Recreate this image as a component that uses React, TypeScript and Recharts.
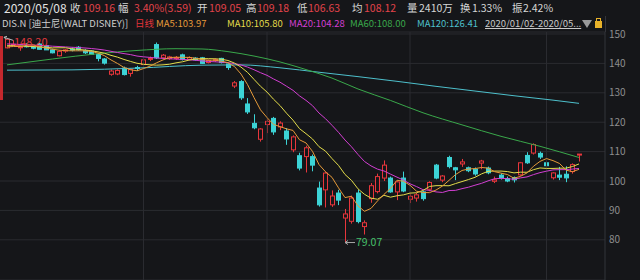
import { ComposedChart, Bar, Line, XAxis, YAxis, CartesianGrid, ReferenceLine, ReferenceDot } from "recharts";

// trading days 2020/01/02 - 2020/05/08
const dates = [
  "01/02", "01/03", "01/06", "01/07", "01/08", "01/09", "01/10", "01/13", "01/14", "01/15", "01/16", "01/17",
  "01/21", "01/22", "01/23", "01/24", "01/27", "01/28", "01/29", "01/30", "01/31",
  "02/03", "02/04", "02/05", "02/06", "02/07", "02/10", "02/11", "02/12", "02/13", "02/14", "02/18", "02/19",
  "02/20", "02/21", "02/24", "02/25", "02/26", "02/27", "02/28",
  "03/02", "03/03", "03/04", "03/05", "03/06", "03/09", "03/10", "03/11", "03/12", "03/13", "03/16", "03/17",
  "03/18", "03/19", "03/20", "03/23", "03/24", "03/25", "03/26", "03/27", "03/30", "03/31",
  "04/01", "04/02", "04/03", "04/06", "04/07", "04/08", "04/09", "04/13", "04/14", "04/15", "04/16", "04/17",
  "04/20", "04/21", "04/22", "04/23", "04/24", "04/27", "04/28", "04/29", "04/30",
  "05/01", "05/04", "05/05", "05/06", "05/07", "05/08",
];

const opens = [
  145.3, 146.4, 145.5, 146.0, 145.5, 146.6, 146.0, 144.6, 142.6, 144.2, 144.9, 145.5,
  144.4, 144.2, 143.0, 141.5, 136.3, 136.4, 138.4, 136.6, 138.6,
  139.6, 141.4, 146.4, 141.9, 141.6, 141.7, 142.9, 141.4, 141.8, 141.9, 140.3, 141.1,
  141.7, 139.8, 132.3, 133.8, 126.2, 119.6, 114.2,
  119.2, 121.3, 118.4, 117.0, 110.6, 108.6, 108.3, 108.3, 97.6, 97.0, 91.9, 95.9,
  87.4, 86.3, 95.9, 84.5, 94.0, 96.4, 101.0, 101.0, 96.3, 101.0,
  93.8, 94.2, 96.3, 97.2, 105.4, 100.3, 108.0, 104.5, 105.8, 104.5, 104.0, 106.1,
  104.4, 99.9, 102.0, 100.8, 101.2, 102.1, 108.7, 109.5, 109.4,
  106.2, 101.1, 102.0, 102.3, 103.2, 109.05,
];

const highs = [
  148.2, 147.9, 146.0, 146.9, 146.1, 146.9, 146.1, 145.0, 144.4, 144.9, 145.4, 145.9,
  144.8, 144.5, 143.3, 141.8, 137.9, 138.0, 138.9, 138.2, 139.2,
  141.5, 142.3, 147.1, 143.2, 142.6, 142.5, 143.3, 142.4, 142.1, 142.2, 141.3, 141.6,
  141.9, 140.0, 134.0, 134.3, 128.2, 122.7, 118.0,
  121.0, 121.8, 120.3, 118.0, 115.5, 109.6, 112.0, 109.0, 99.8, 103.2, 96.8, 97.0,
  90.5, 95.0, 97.0, 86.6, 99.3, 102.5, 107.0, 101.5, 100.0, 103.2,
  95.5, 96.0, 96.6, 99.9, 105.8, 102.0, 108.6, 104.8, 107.5, 104.9, 104.6, 107.2,
  104.9, 101.5, 102.6, 101.5, 101.5, 106.5, 109.8, 112.8, 110.0,
  107.3, 103.0, 104.8, 105.0, 106.0, 109.18,
];

const lows = [
  145.1, 146.0, 144.3, 145.4, 144.8, 144.7, 144.6, 143.4, 142.4, 143.6, 144.1, 144.3,
  143.2, 142.9, 140.7, 139.6, 135.8, 136.0, 135.9, 135.5, 137.4,
  139.3, 140.8, 141.5, 141.5, 141.2, 141.2, 141.0, 141.1, 140.9, 139.8, 140.0, 140.5,
  140.0, 137.8, 131.6, 127.6, 122.8, 117.6, 113.4,
  116.3, 115.7, 117.3, 112.3, 109.8, 103.6, 102.9, 103.3, 91.3, 91.0, 91.2, 91.8,
  79.07, 85.5, 85.6, 81.8, 92.6, 95.8, 100.0, 96.0, 93.5, 96.2,
  92.5, 93.0, 93.3, 96.5, 100.6, 99.6, 104.3, 100.3, 104.8, 103.0, 101.8, 104.0,
  102.3, 99.3, 100.5, 99.6, 99.5, 101.8, 105.8, 109.0, 107.5,
  104.7, 100.5, 100.3, 99.6, 102.5, 106.63,
];

const closes = [
  148.2, 146.5, 145.65, 145.7, 145.4, 144.8, 144.6, 143.6, 144.1, 144.6, 144.5, 144.6,
  143.6, 143.1, 141.7, 140.1, 137.4, 137.6, 136.2, 137.9, 138.3,
  141.2, 141.7, 141.9, 142.8, 142.2, 142.0, 141.3, 142.0, 141.2, 140.0, 141.0, 141.3,
  140.3, 138.6, 133.4, 128.3, 123.5, 118.1, 117.7,
  120.3, 116.7, 119.7, 114.3, 115.0, 104.4, 111.3, 105.4, 91.9, 102.7, 94.9, 93.5,
  88.8, 94.2, 86.2, 85.8, 98.4, 101.5, 105.4, 96.3, 99.7, 96.6,
  94.8, 95.3, 94.0, 99.5, 101.0, 101.7, 104.9, 103.8, 106.5, 103.5, 102.4, 106.8,
  102.8, 100.4, 101.0, 100.0, 100.4, 106.2, 106.2, 112.4, 108.15,
  105.2, 102.75, 101.3, 101.07, 105.57, 109.16,
];

// Dec 2019 closes feeding the short moving averages
const priorCloses = [
  147.5, 147.9, 148.2, 147.2, 146.8, 146.6, 147.3, 146.4, 147.2, 146.8,
  146.6, 146.5, 146.9, 146.2, 146.0, 145.9, 145.6, 143.8, 144.6,
];

// long averages
const ma60At = [0, 7, 14, 20, 26, 30, 34, 38, 42, 46, 50, 54, 59, 64, 70, 76, 82, 88];
const ma60Val = [139.5, 141.5, 143.3, 144.4, 145.0, 144.9, 144.0, 142.5, 140.5, 137.9, 135.0, 131.3, 127.4, 123.2, 119.1, 115.2, 111.8, 108.0];
const ma120At = [0, 10, 20, 30, 36, 42, 48, 54, 60, 66, 72, 78, 84, 88];
const ma120Val = [137.7, 137.8, 138.4, 139.4, 139.5, 138.5, 137.0, 135.5, 133.9, 132.2, 130.6, 129.0, 127.5, 126.41];

const monthStarts = ["02/03", "03/02", "04/01", "05/01"];
const yTicks = [80, 90, 100, 110, 120, 130, 140, 150];

const headerLabels = ["收", "幅", "开", "高", "低", "均", "量", "换", "振"];
const headerValues = ["109.16", "3.40%(3.59)", "109.05", "109.18", "106.63", "108.12", "2410万", "1.33%", "2.42%"];

const BG = "#151619";
const GRID = "#2a2b30";
const UP = "#e8363c";
const DOWN = "#3cd3d6";
const C_MA5 = "#e59a3a";
const C_MA10 = "#e3dc4b";
const C_MA20 = "#d23fd2";
const C_MA60 = "#3aa84b";
const C_MA120 = "#4ec0cc";

const allCloses = [...priorCloses, ...closes];
const movingAvg = (n: number) =>
  closes.map((_, i) => {
    const end = i + priorCloses.length + 1;
    const win = allCloses.slice(end - n, end);
    return win.reduce((a, b) => a + b, 0) / n;
  });

const ma5 = movingAvg(5);
const ma10 = movingAvg(10);
const ma20 = movingAvg(20);

const data = dates.map((d, i) => ({
  date: d,
  open: opens[i],
  high: highs[i],
  low: lows[i],
  close: closes[i],
  range: [lows[i], highs[i]],
  ma5: ma5[i],
  ma10: ma10[i],
  ma20: ma20[i],
  ma60: ma60At.includes(i) ? ma60Val[ma60At.indexOf(i)] : null,
  ma120: ma120At.includes(i) ? ma120Val[ma120At.indexOf(i)] : null,
}));

const iHigh = highs.indexOf(Math.max(...highs));
const iLow = lows.indexOf(Math.min(...lows));

const Candle = (props: any) => {
  const { x, y, width, height, payload } = props;
  if (x == null || !payload) return null;
  const { open, close, high, low } = payload;
  const top = Math.min(y, y + height);
  const h = Math.abs(height);
  const k = high > low ? h / (high - low) : 0;
  const py = (v: number) => top + (high - v) * k;
  const up = close >= open;
  const color = up ? UP : DOWN;
  const left = Math.round(x);
  const cx = left + 2.5;
  const bTop = py(Math.max(open, close));
  const bBot = py(Math.min(open, close));
  return (
    <g>
      <line x1={cx} x2={cx} y1={top} y2={bTop} stroke={color} />
      <line x1={cx} x2={cx} y1={bBot} y2={top + h} stroke={color} />
      <rect
        x={left + 0.5}
        y={bTop}
        width={4}
        height={Math.max(bBot - bTop, 1)}
        fill={up ? BG : color}
        stroke={color}
      />
    </g>
  );
};

const HighMark = ({ cx, cy, text }: any) => (
  <g>
    <line x1={cx - 3} y1={cy - 2} x2={cx + 6} y2={cy + 1} stroke="#b8b8b8" />
    <path d={`M${cx - 3},${cy - 2} l3,-1 M${cx - 3},${cy - 2} l2,2`} stroke="#b8b8b8" fill="none" />
    <text x={cx + 7} y={cy + 4} dominantBaseline="middle" fontSize={11} fill="#e0393e">
      {text}
    </text>
  </g>
);

const LowMark = ({ cx, cy, text }: any) => (
  <g>
    <line x1={cx} y1={cy} x2={cx + 10} y2={cy} stroke="#a8a8a8" />
    <path d={`M${cx + 3},${cy - 2} L${cx},${cy} L${cx + 3},${cy + 2}`} stroke="#a8a8a8" fill="none" />
    <text x={cx + 11} y={cy + 1} dominantBaseline="middle" fontSize={10.5} fill="#46c06a">
      {text}
    </text>
  </g>
);

const labelX = [70, 118, 197, 246, 297, 352, 407, 460, 512];
const valueX = [83, 134, 209, 257, 308, 364, 419, 472, 523];

const legend = [
  { name: "MA5", value: ma5[ma5.length - 1].toFixed(2), color: C_MA5, x: 156 },
  { name: "MA10", value: ma10[ma10.length - 1].toFixed(2), color: C_MA10, x: 227 },
  { name: "MA20", value: ma20[ma20.length - 1].toFixed(2), color: C_MA20, x: 289 },
  { name: "MA60", value: ma60Val[ma60Val.length - 1].toFixed(2), color: C_MA60, x: 350 },
  { name: "MA120", value: ma120Val[ma120Val.length - 1].toFixed(2), color: C_MA120, x: 417 },
];

const abs = (left: number, top: number, extra: any = {}) => ({
  position: "absolute" as const,
  left,
  top,
  whiteSpace: "nowrap" as const,
  ...extra,
});

export default function App() {
  return (
    <div
      style={{
        position: "fixed",
        top: 0,
        left: 0,
        width: 640,
        height: 280,
        background: BG,
        overflow: "hidden",
        fontFamily: '"Noto Sans CJK SC", "Noto Sans", sans-serif',
      }}
    >
      <ComposedChart
        width={640}
        height={280}
        data={data}
        margin={{ top: 32, right: 0, bottom: 0, left: 0 }}
        style={{ position: "absolute", top: 0, left: 0 }}
      >
        <CartesianGrid vertical={false} stroke={GRID} />
        <XAxis dataKey="date" hide padding={{ left: 3.75, right: 22.75 }} />
        <YAxis
          orientation="right"
          width={35}
          domain={[66.33, 150.68]}
          ticks={yTicks}
          interval={0}
          allowDataOverflow
          tickLine={false}
          tickSize={2}
          tickMargin={2}
          axisLine={{ stroke: "#33343a" }}
          tick={{ fill: "#8e8e8e", fontSize: 10 }}
        />
        {monthStarts.map((d) => (
          <ReferenceLine key={d} x={d} stroke={GRID} />
        ))}
        <Bar dataKey="range" barSize={5} shape={(p: any) => <Candle {...p} />} isAnimationActive={false} />
        <Line type="monotone" dataKey="ma120" stroke={C_MA120} strokeWidth={1} dot={false} connectNulls isAnimationActive={false} />
        <Line type="monotone" dataKey="ma60" stroke={C_MA60} strokeWidth={1} dot={false} connectNulls isAnimationActive={false} />
        <Line type="linear" dataKey="ma20" stroke={C_MA20} strokeWidth={1} dot={false} isAnimationActive={false} />
        <Line type="linear" dataKey="ma10" stroke={C_MA10} strokeWidth={1} dot={false} isAnimationActive={false} />
        <Line type="linear" dataKey="ma5" stroke={C_MA5} strokeWidth={1} dot={false} isAnimationActive={false} />
        <ReferenceDot
          x={dates[iHigh]}
          y={highs[iHigh]}
          r={0}
          ifOverflow="visible"
          shape={(p: any) => <HighMark cx={p.cx} cy={p.cy} text={highs[iHigh].toFixed(2)} />}
        />
        <ReferenceDot
          x={dates[iLow]}
          y={lows[iLow]}
          r={0}
          ifOverflow="visible"
          shape={(p: any) => <LowMark cx={p.cx} cy={p.cy} text={lows[iLow].toFixed(2)} />}
        />
      </ComposedChart>

      {/* header row */}
      <span style={abs(4, 0, { fontSize: 12, lineHeight: "16px", color: "#e4e4e4" })}>2020/05/08</span>
      {headerLabels.map((l, i) => (
        <span key={l} style={abs(labelX[i], 0, { fontSize: 10.5, lineHeight: "16px", color: "#d6d6d6" })}>
          {l}
        </span>
      ))}
      {headerValues.map((v, i) => (
        <span
          key={v}
          style={abs(valueX[i], 0, { fontSize: 10.5, lineHeight: "16px", color: i < 6 ? "#e2434a" : "#d6d6d6" })}
        >
          {v}
        </span>
      ))}

      {/* legend row */}
      <span style={abs(2, 16, { fontSize: 9.5, lineHeight: "14px", color: "#cfcfcf" })}>DIS.N [迪士尼(WALT DISNEY)]</span>
      <span style={abs(135, 16, { fontSize: 9.5, lineHeight: "14px", color: "#e2343a" })}>日线</span>
      {legend.map((m) => (
        <span key={m.name} style={abs(m.x, 16, { fontSize: 9.5, lineHeight: "14px", color: m.color })}>
          {m.name}:{m.value}
        </span>
      ))}
      <span style={abs(485, 16, { fontSize: 9.5, lineHeight: "14px", color: "#c8c8c8", textDecoration: "underline" })}>
        2020/01/02-2020/05...
      </span>
      <div
        style={abs(582, 20, {
          width: 0,
          height: 0,
          borderLeft: "5px solid transparent",
          borderRight: "5px solid transparent",
          borderTop: "8px solid #9a9a9a",
        })}
      />
      <div style={abs(595, 21, { width: 7, height: 7, background: "#e8b22a" })} />
      <div style={abs(596, 18, { width: 3, height: 3, border: "1px solid #e8b22a", borderBottom: "none" })} />
      <div style={abs(605, 16, { width: 1, height: 16, background: "#33343a" })} />

      {/* left marker strip */}
      <div style={abs(0, 36, { width: 3, height: 64, background: "#c4282d" })} />
    </div>
  );
}
